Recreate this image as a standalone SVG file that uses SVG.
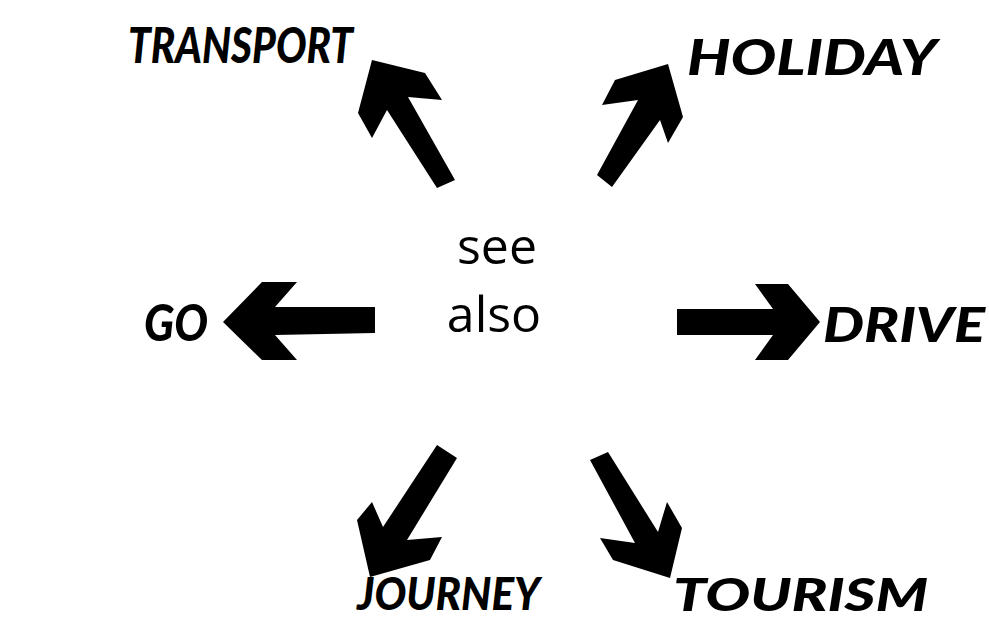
<svg xmlns="http://www.w3.org/2000/svg" width="989" height="622" viewBox="0 0 989 622">
<style>
.lbl{font-family:Lato,"Liberation Sans",sans-serif;font-weight:900;font-style:italic;fill:#000}
.ctr{font-family:"Open Sans","Noto Sans",sans-serif;font-size:50px;fill:#000;text-anchor:middle}
.arr{fill:#000}
</style>
<rect width="989" height="622" fill="#fff"/>
<g id="center"><text class="ctr"><tspan x="497" y="264">see</tspan><tspan x="494" y="332">also</tspan></text></g>
<g id="connectors">
<polygon class="arr" points="372,60 425,73 442,100 408,97 455,180 437,188 387,110 372,138 358,113"/>
<polygon class="arr" points="668,64 683,117 668,143 660,120 612,187 597,175 638,100 602,105 615,80"/>
<polygon class="arr" points="223,322 262,282 297,282 275,307 375,307 375,333 275,335 297,360 262,360"/>
<polygon class="arr" points="677,309 773,309 755,284 788,284 820,322 788,360 755,360 773,335 677,335"/>
<polygon class="arr" points="437,445 457,458 407,540 442,537 430,560 370,577 357,520 372,502 383,527"/>
<polygon class="arr" points="590,460 608,452 658,532 667,502 682,528 670,578 613,560 600,538 635,543"/>
</g>
<g id="n-transport"><text class="lbl" x="128" y="63" font-size="50" textLength="225" lengthAdjust="spacingAndGlyphs">TRANSPORT</text></g>
<g id="n-holiday"><text class="lbl" x="687" y="75" font-size="50" textLength="250" lengthAdjust="spacingAndGlyphs">HOLIDAY</text></g>
<g id="n-go"><text class="lbl" x="144" y="341" font-size="52" textLength="64" lengthAdjust="spacingAndGlyphs">GO</text></g>
<g id="n-drive"><text class="lbl" x="823" y="342" font-size="48" textLength="162" lengthAdjust="spacingAndGlyphs">DRIVE</text></g>
<g id="n-journey"><text class="lbl" x="357" y="610" font-size="46" textLength="183" lengthAdjust="spacingAndGlyphs">JOURNEY</text></g>
<g id="n-tourism"><text class="lbl" x="673" y="611" font-size="46" textLength="255" lengthAdjust="spacingAndGlyphs">TOURISM</text></g>
</svg>
